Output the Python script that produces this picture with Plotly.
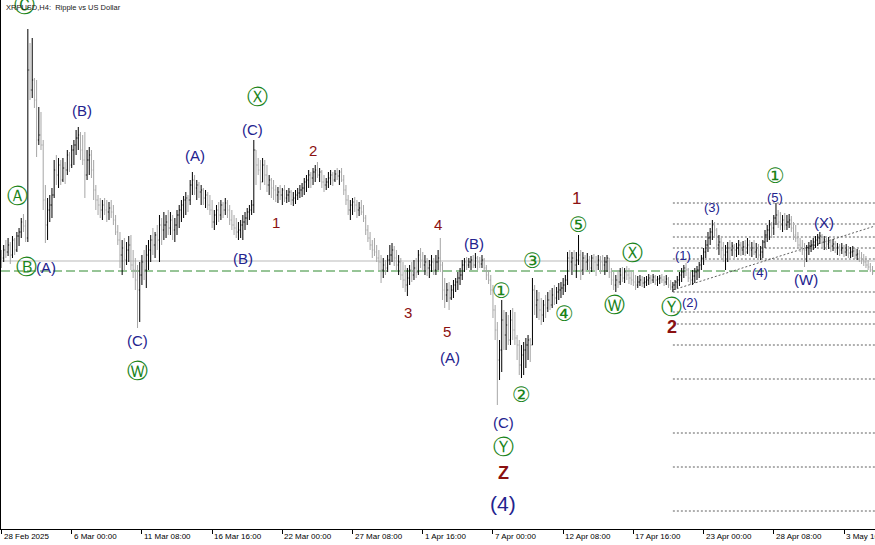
import plotly.graph_objects as go
import pandas as pd

# ---------------- data (XRPUSD, H4) ----------------
start = pd.Timestamp("2025-02-28 16:00")
first_open = 2.180

highs = [
    2.200, 2.220, 2.240, 2.248, 2.232, 2.256, 2.248, 2.272, 2.288, 2.328,
    2.344, 2.320, 3.084, 3.028, 3.048, 2.888, 2.880, 2.772, 2.752, 2.640,
    2.460, 2.408, 2.420, 2.448, 2.560, 2.580, 2.568, 2.560, 2.568, 2.552,
    2.600, 2.592, 2.620, 2.640, 2.680, 2.692, 2.672, 2.660, 2.672, 2.600,
    2.612, 2.600, 2.560, 2.460, 2.420, 2.408, 2.400, 2.408, 2.400, 2.392,
    2.400, 2.380, 2.340, 2.300, 2.272, 2.240, 2.248, 2.232, 2.256, 2.260,
    2.200, 2.168, 2.140, 2.152, 2.180, 2.200, 2.220, 2.240, 2.260, 2.288,
    2.272, 2.300, 2.340, 2.328, 2.352, 2.340, 2.360, 2.352, 2.340, 2.328,
    2.360, 2.380, 2.400, 2.416, 2.432, 2.420, 2.480, 2.512, 2.500, 2.480,
    2.472, 2.460, 2.448, 2.440, 2.432, 2.420, 2.400, 2.360, 2.380, 2.392,
    2.400, 2.392, 2.408, 2.400, 2.380, 2.360, 2.340, 2.328, 2.312, 2.320,
    2.340, 2.352, 2.368, 2.380, 2.400, 2.640, 2.580, 2.568, 2.560, 2.568,
    2.560, 2.540, 2.500, 2.488, 2.480, 2.460, 2.452, 2.460, 2.448, 2.460,
    2.440, 2.448, 2.440, 2.432, 2.440, 2.448, 2.460, 2.468, 2.488, 2.500,
    2.520, 2.512, 2.528, 2.540, 2.552, 2.528, 2.520, 2.500, 2.488, 2.512,
    2.520, 2.512, 2.520, 2.528, 2.520, 2.528, 2.500, 2.460, 2.420, 2.400,
    2.408, 2.412, 2.400, 2.392, 2.400, 2.380, 2.340, 2.300, 2.272, 2.240,
    2.248, 2.220, 2.200, 2.180, 2.168, 2.160, 2.180, 2.220, 2.228, 2.216,
    2.200, 2.180, 2.168, 2.152, 2.140, 2.128, 2.140, 2.152, 2.160, 2.168,
    2.200, 2.208, 2.192, 2.180, 2.168, 2.160, 2.180, 2.168, 2.180, 2.200,
    2.248, 2.152, 2.088, 2.068, 2.072, 2.060, 2.080, 2.088, 2.112, 2.128,
    2.160, 2.168, 2.172, 2.168, 2.176, 2.180, 2.188, 2.176, 2.172, 2.180,
    2.168, 2.140, 2.120, 2.100, 2.060, 1.980, 1.912, 1.840, 2.000, 1.960,
    1.952, 1.940, 1.960, 1.968, 1.952, 1.860, 1.840, 1.820, 1.832, 1.848,
    1.860, 1.848, 2.088, 2.060, 2.040, 2.032, 2.008, 2.000, 2.020, 2.032,
    2.040, 2.048, 2.060, 2.052, 2.068, 2.072, 2.088, 2.100, 2.192, 2.200,
    2.192, 2.200, 2.192, 2.260, 2.200, 2.192, 2.180, 2.188, 2.176, 2.180,
    2.184, 2.176, 2.180, 2.176, 2.180, 2.172, 2.180, 2.168, 2.128, 2.112,
    2.100, 2.120, 2.128, 2.132, 2.128, 2.136, 2.128, 2.120, 2.112, 2.100,
    2.096, 2.100, 2.096, 2.092, 2.096, 2.104, 2.100, 2.104, 2.100, 2.096,
    2.100, 2.104, 2.096, 2.100, 2.092, 2.080, 2.072, 2.080, 2.096, 2.112,
    2.128, 2.140, 2.148, 2.128, 2.112, 2.120, 2.128, 2.136, 2.152, 2.180,
    2.208, 2.240, 2.272, 2.288, 2.320, 2.312, 2.288, 2.260, 2.248, 2.232,
    2.220, 2.232, 2.240, 2.232, 2.224, 2.228, 2.240, 2.232, 2.236, 2.240,
    2.248, 2.240, 2.232, 2.240, 2.228, 2.224, 2.216, 2.240, 2.280, 2.300,
    2.320, 2.312, 2.340, 2.388, 2.360, 2.352, 2.340, 2.348, 2.340, 2.344,
    2.336, 2.312, 2.300, 2.272, 2.248, 2.240, 2.228, 2.220, 2.232, 2.240,
    2.248, 2.256, 2.264, 2.272, 2.264, 2.256, 2.248, 2.252, 2.240, 2.244,
    2.236, 2.228, 2.224, 2.228, 2.220, 2.224, 2.216, 2.212, 2.216, 2.208,
    2.204, 2.200, 2.192, 2.184, 2.176, 2.160, 2.148, 2.136,
]

lows = [
    2.128, 2.152, 2.168, 2.176, 2.144, 2.168, 2.180, 2.192, 2.216, 2.248,
    2.272, 2.232, 2.232, 2.800, 2.808, 2.768, 2.572, 2.620, 2.600, 2.360,
    2.228, 2.240, 2.312, 2.328, 2.408, 2.460, 2.448, 2.460, 2.472, 2.464,
    2.500, 2.512, 2.528, 2.540, 2.580, 2.600, 2.560, 2.540, 2.408, 2.480,
    2.500, 2.488, 2.400, 2.360, 2.340, 2.328, 2.320, 2.340, 2.312, 2.320,
    2.328, 2.300, 2.260, 2.220, 2.128, 2.100, 2.120, 2.140, 2.152, 2.120,
    2.088, 2.040, 1.888, 1.912, 2.060, 2.080, 2.048, 2.120, 2.152, 2.180,
    2.168, 2.200, 2.152, 2.220, 2.240, 2.248, 2.260, 2.260, 2.240, 2.232,
    2.260, 2.288, 2.312, 2.328, 2.340, 2.352, 2.380, 2.420, 2.420, 2.400,
    2.408, 2.380, 2.380, 2.368, 2.360, 2.340, 2.288, 2.280, 2.300, 2.312,
    2.320, 2.328, 2.340, 2.328, 2.300, 2.280, 2.260, 2.248, 2.240, 2.248,
    2.240, 2.280, 2.300, 2.320, 2.340, 2.348, 2.460, 2.500, 2.440, 2.480,
    2.460, 2.432, 2.420, 2.408, 2.400, 2.392, 2.388, 2.400, 2.380, 2.392,
    2.388, 2.392, 2.380, 2.376, 2.384, 2.400, 2.408, 2.412, 2.420, 2.432,
    2.448, 2.448, 2.460, 2.472, 2.488, 2.472, 2.448, 2.432, 2.440, 2.448,
    2.460, 2.456, 2.472, 2.480, 2.460, 2.472, 2.420, 2.380, 2.340, 2.320,
    2.340, 2.352, 2.328, 2.336, 2.340, 2.312, 2.260, 2.232, 2.200, 2.168,
    2.176, 2.152, 2.120, 2.068, 2.088, 2.100, 2.112, 2.140, 2.152, 2.136,
    2.120, 2.100, 2.080, 2.048, 2.032, 2.016, 2.060, 2.072, 2.080, 2.088,
    2.100, 2.128, 2.112, 2.100, 2.096, 2.088, 2.112, 2.100, 2.100, 2.120,
    2.112, 2.000, 1.968, 1.992, 1.960, 2.000, 2.008, 2.032, 2.040, 2.060,
    2.080, 2.112, 2.120, 2.128, 2.120, 2.128, 2.128, 2.120, 2.128, 2.128,
    2.112, 2.080, 2.064, 2.020, 1.928, 1.840, 1.580, 1.680, 1.712, 1.800,
    1.800, 1.820, 1.820, 1.840, 1.820, 1.760, 1.700, 1.688, 1.700, 1.728,
    1.760, 1.752, 1.820, 1.940, 1.928, 1.920, 1.900, 1.912, 1.928, 1.952,
    1.960, 1.968, 1.980, 1.984, 2.000, 2.008, 2.020, 2.032, 2.060, 2.112,
    2.100, 2.120, 2.088, 2.140, 2.080, 2.100, 2.112, 2.120, 2.104, 2.112,
    2.120, 2.096, 2.120, 2.104, 2.112, 2.100, 2.112, 2.088, 2.060, 2.040,
    2.032, 2.048, 2.060, 2.072, 2.068, 2.080, 2.064, 2.060, 2.056, 2.040,
    2.048, 2.056, 2.052, 2.048, 2.056, 2.060, 2.064, 2.068, 2.060, 2.056,
    2.064, 2.068, 2.056, 2.060, 2.048, 2.040, 2.032, 2.040, 2.048, 2.056,
    2.072, 2.088, 2.096, 2.072, 2.060, 2.060, 2.068, 2.080, 2.088, 2.120,
    2.140, 2.168, 2.192, 2.220, 2.240, 2.248, 2.200, 2.180, 2.168, 2.152,
    2.120, 2.152, 2.168, 2.176, 2.168, 2.172, 2.180, 2.176, 2.180, 2.176,
    2.184, 2.176, 2.172, 2.180, 2.168, 2.168, 2.160, 2.168, 2.208, 2.232,
    2.240, 2.248, 2.260, 2.300, 2.288, 2.280, 2.272, 2.280, 2.280, 2.288,
    2.272, 2.240, 2.232, 2.208, 2.192, 2.180, 2.132, 2.152, 2.180, 2.192,
    2.200, 2.208, 2.216, 2.224, 2.208, 2.200, 2.200, 2.204, 2.192, 2.196,
    2.188, 2.180, 2.176, 2.184, 2.172, 2.176, 2.168, 2.168, 2.172, 2.164,
    2.160, 2.152, 2.144, 2.136, 2.128, 2.120, 2.112, 2.100,
]

closes = [
    2.168, 2.200, 2.192, 2.220, 2.180, 2.240, 2.200, 2.256, 2.272, 2.312,
    2.296, 2.248, 2.920, 2.840, 2.880, 2.800, 2.640, 2.660, 2.620, 2.400,
    2.300, 2.360, 2.380, 2.420, 2.520, 2.500, 2.540, 2.480, 2.528, 2.520,
    2.580, 2.540, 2.600, 2.620, 2.648, 2.660, 2.600, 2.560, 2.500, 2.560,
    2.580, 2.520, 2.440, 2.400, 2.380, 2.360, 2.380, 2.360, 2.352, 2.368,
    2.352, 2.320, 2.272, 2.240, 2.180, 2.208, 2.160, 2.200, 2.220, 2.140,
    2.120, 2.080, 2.040, 2.100, 2.152, 2.120, 2.180, 2.200, 2.240, 2.220,
    2.260, 2.240, 2.300, 2.280, 2.300, 2.312, 2.288, 2.320, 2.280, 2.300,
    2.340, 2.360, 2.380, 2.400, 2.408, 2.400, 2.460, 2.480, 2.448, 2.460,
    2.432, 2.440, 2.408, 2.420, 2.380, 2.360, 2.312, 2.340, 2.360, 2.340,
    2.380, 2.360, 2.388, 2.360, 2.320, 2.300, 2.288, 2.272, 2.280, 2.300,
    2.312, 2.328, 2.352, 2.360, 2.380, 2.600, 2.540, 2.520, 2.472, 2.540,
    2.500, 2.460, 2.480, 2.448, 2.440, 2.420, 2.432, 2.420, 2.440, 2.408,
    2.420, 2.432, 2.400, 2.408, 2.420, 2.428, 2.440, 2.448, 2.472, 2.480,
    2.500, 2.488, 2.512, 2.520, 2.500, 2.512, 2.472, 2.460, 2.472, 2.488,
    2.500, 2.480, 2.504, 2.496, 2.512, 2.480, 2.440, 2.400, 2.360, 2.380,
    2.392, 2.380, 2.360, 2.368, 2.352, 2.328, 2.280, 2.248, 2.220, 2.200,
    2.192, 2.168, 2.152, 2.120, 2.140, 2.128, 2.160, 2.180, 2.200, 2.168,
    2.140, 2.152, 2.100, 2.080, 2.060, 2.088, 2.120, 2.100, 2.128, 2.112,
    2.180, 2.160, 2.140, 2.152, 2.128, 2.140, 2.152, 2.120, 2.152, 2.168,
    2.140, 2.040, 2.020, 2.040, 2.008, 2.040, 2.060, 2.072, 2.088, 2.100,
    2.140, 2.152, 2.140, 2.152, 2.160, 2.140, 2.168, 2.152, 2.144, 2.160,
    2.128, 2.100, 2.080, 2.040, 1.960, 1.880, 1.760, 1.800, 1.920, 1.860,
    1.900, 1.840, 1.920, 1.880, 1.848, 1.820, 1.740, 1.780, 1.800, 1.820,
    1.840, 1.820, 2.040, 1.980, 2.000, 1.960, 1.940, 1.980, 1.968, 2.000,
    1.980, 2.020, 2.008, 2.032, 2.040, 2.048, 2.060, 2.080, 2.168, 2.152,
    2.168, 2.140, 2.160, 2.180, 2.120, 2.168, 2.152, 2.160, 2.128, 2.168,
    2.152, 2.140, 2.160, 2.152, 2.140, 2.152, 2.168, 2.112, 2.080, 2.060,
    2.080, 2.072, 2.100, 2.088, 2.112, 2.100, 2.088, 2.080, 2.072, 2.060,
    2.072, 2.080, 2.068, 2.072, 2.080, 2.088, 2.080, 2.092, 2.080, 2.084,
    2.088, 2.080, 2.072, 2.084, 2.060, 2.052, 2.060, 2.072, 2.080, 2.100,
    2.112, 2.128, 2.120, 2.088, 2.080, 2.096, 2.112, 2.120, 2.140, 2.168,
    2.192, 2.220, 2.248, 2.272, 2.300, 2.280, 2.220, 2.232, 2.200, 2.180,
    2.192, 2.208, 2.200, 2.216, 2.200, 2.208, 2.220, 2.200, 2.212, 2.192,
    2.220, 2.200, 2.208, 2.192, 2.200, 2.180, 2.192, 2.232, 2.260, 2.280,
    2.300, 2.288, 2.328, 2.340, 2.312, 2.300, 2.320, 2.300, 2.312, 2.320,
    2.288, 2.260, 2.248, 2.220, 2.208, 2.200, 2.200, 2.208, 2.216, 2.220,
    2.232, 2.240, 2.248, 2.256, 2.232, 2.240, 2.224, 2.232, 2.216, 2.224,
    2.208, 2.212, 2.200, 2.208, 2.192, 2.200, 2.188, 2.192, 2.196, 2.180,
    2.184, 2.168, 2.160, 2.152, 2.140, 2.132, 2.120, 2.108,
]

# horizontal levels
ref_level = 2.156          # solid grey line
dash_level = 2.116         # green dashed line
fib_levels = [2.388, 2.304, 2.252, 2.208, 2.164, 2.032, 1.952, 1.904,
              1.820, 1.684, 1.468, 1.332, 1.156]
fib_start_bar = 306
trend_p0 = 2.040           # trendline at fib_start_bar
trend_p1 = 2.296           # trendline at right edge

tick_times = ["2025-02-28 16:00", "2025-03-06 00:00", "2025-03-11 08:00",
              "2025-03-16 16:00", "2025-03-22 00:00", "2025-03-27 08:00",
              "2025-04-01 16:00", "2025-04-07 00:00", "2025-04-12 08:00",
              "2025-04-17 16:00", "2025-04-23 00:00", "2025-04-28 08:00",
              "2025-05-03 16:00"]
tick_labels = ["28 Feb 2025", "6 Mar 00:00", "11 Mar 08:00", "16 Mar 16:00",
               "22 Mar 00:00", "27 Mar 08:00", "1 Apr 16:00", "7 Apr 00:00",
               "12 Apr 08:00", "17 Apr 16:00", "23 Apr 00:00", "28 Apr 08:00",
               "3 May 16:00"]

# wave labels: text, bar position, price, style
wave_labels = [
    ("Ⓒ", 10.7, 3.180, "g"), ("Ⓐ", 7.1, 2.416, "g"), ("Ⓑ", 11.6, 2.132, "g"),
    ("(A)", 20.3, 2.132, "b"), ("(B)", 36.7, 2.760, "b"), ("(C)", 61.8, 1.840, "b"),
    ("Ⓦ", 61.8, 1.716, "g"), ("(A)", 88.2, 2.580, "b"), ("(C)", 114.6, 2.684, "b"),
    ("Ⓧ", 116.5, 2.812, "g"), ("(B)", 110.1, 2.168, "b"), ("1", 125.1, 2.312, "r"),
    ("2", 142.0, 2.600, "r"), ("3", 185.3, 1.952, "r"), ("4", 199.0, 2.304, "r"),
    ("5", 203.1, 1.876, "r"), ("(A)", 204.4, 1.772, "b"), ("(B)", 215.4, 2.228, "b"),
    ("①", 228.1, 2.036, "g"), ("③", 241.8, 2.156, "g"), ("④", 256.4, 1.944, "g"),
    ("②", 237.2, 1.620, "g"), ("(C)", 228.6, 1.512, "b"), ("Ⓨ", 228.6, 1.412, "g"),
    ("Z", 228.6, 1.308, "R"), ("(4)", 228.6, 1.188, "B"), ("1", 262.3, 2.408, "L"),
    ("⑤", 262.8, 2.300, "g"), ("Ⓧ", 287.8, 2.188, "g"), ("Ⓦ", 279.6, 1.980, "g"),
    ("Ⓨ", 305.6, 1.972, "g"), ("(2)", 313.8, 1.992, "n"), ("2", 305.6, 1.892, "R"),
    ("(1)", 310.6, 2.180, "n"), ("(3)", 323.8, 2.372, "n"), ("(4)", 345.7, 2.112, "n"),
    ("①", 352.6, 2.496, "g"), ("(5)", 352.6, 2.412, "n"), ("(X)", 374.9, 2.312, "b"),
    ("(W)", 366.7, 2.084, "b"), ("(Y)", 402.0, 2.040, "b"), ("②", 402.0, 1.976, "g"),
    ("(C)", -4.8, 1.836, "b"), ("Ⓑ", -4.3, 1.720, "g"),
]

# ---------------- build ----------------
BAR_H = 4
PX_PER_BAR = 2.194
n = min(len(highs), len(lows), len(closes))
times = pd.date_range(start, periods=n, freq=f"{BAR_H}h")
opens = [first_open] + closes[:n - 1]
hi = [max(h, o, c) for h, o, c in zip(highs, opens, closes)]
lo = [min(l, o, c) for l, o, c in zip(lows, opens, closes)]


def bar_time(b):
    return start + pd.Timedelta(hours=BAR_H * b)


x0 = bar_time(-0.5 / PX_PER_BAR)
x1 = bar_time(873.5 / PX_PER_BAR)

fig = go.Figure()
fig.add_trace(go.Ohlc(
    x=times, open=opens, high=hi, low=lo, close=closes[:n],
    increasing=dict(line=dict(color="#000000", width=1)),
    decreasing=dict(line=dict(color="#a6a6a6", width=1)),
    tickwidth=0.35, hoverinfo="skip", showlegend=False,
))

shapes = []
shapes.append(dict(type="line", xref="paper", x0=0, x1=1, yref="y",
                   y0=ref_level, y1=ref_level,
                   line=dict(color="#b9b9b9", width=1), layer="below"))
shapes.append(dict(type="line", xref="paper", x0=0, x1=1, yref="y",
                   y0=dash_level, y1=dash_level,
                   line=dict(color="#2f8a2f", width=1, dash="9px,4px"), layer="below"))
fs = bar_time(fib_start_bar)
for lv in fib_levels:
    shapes.append(dict(type="line", xref="x", x0=fs, x1=x1, yref="y", y0=lv, y1=lv,
                       line=dict(color="#606060", width=1, dash="2px,2px"), layer="below"))
shapes.append(dict(type="line", xref="x", x0=fs, x1=x1, yref="y",
                   y0=trend_p0, y1=trend_p1,
                   line=dict(color="#606060", width=1, dash="2px,2px"), layer="below"))

styles = {
    "b": dict(color="#23238e", size=15, family="Liberation Sans"),
    "n": dict(color="#23238e", size=13, family="Liberation Sans"),
    "B": dict(color="#23238e", size=21, family="Liberation Sans"),
    "r": dict(color="#8b1111", size=15, family="Liberation Sans"),
    "L": dict(color="#8b1111", size=17, family="Liberation Sans"),
    "R": dict(color="#8b1111", size=18, family="Liberation Sans"),
    "g": dict(color="#1a841a", size=21, family="DejaVu Sans"),
}

ann = []
for txt, b, p, st in wave_labels:
    t = txt
    if st == "R":
        t = "<b>" + txt + "</b>"
    ann.append(dict(x=bar_time(b), y=p, xref="x", yref="y", text=t,
                    showarrow=False, xanchor="center", yanchor="middle",
                    font=styles[st]))

PLOT_H = 529
for tt, tl in zip(tick_times, tick_labels):
    ann.append(dict(x=pd.Timestamp(tt), y=(PLOT_H - 536.5) / PLOT_H,
                    xref="x", yref="paper", text=tl, showarrow=False,
                    xanchor="left", yanchor="middle", xshift=0,
                    font=dict(family="Liberation Sans", size=8, color="#000000")))

ann.append(dict(x=0.003, y=(PLOT_H - 7) / PLOT_H, xref="paper", yref="paper",
                text="XRPUSD,H4:  Ripple vs US Dollar", showarrow=False,
                xanchor="left", yanchor="middle",
                font=dict(family="Liberation Sans", size=7.5, color="#202020")))

fig.update_layout(
    width=875, height=545,
    margin=dict(l=1, r=0, t=0, b=16, pad=0),
    paper_bgcolor="white", plot_bgcolor="white",
    shapes=shapes, annotations=ann, showlegend=False,
    xaxis=dict(type="date", range=[x0, x1], rangeslider=dict(visible=False),
               showgrid=False, zeroline=False, showline=True, linecolor="#000000",
               linewidth=1, tickvals=[pd.Timestamp(t) for t in tick_times],
               ticks="outside", ticklen=4, tickcolor="#000000", tickwidth=1,
               showticklabels=False, fixedrange=True),
    yaxis=dict(range=[1.084, 3.2], showgrid=False, zeroline=False,
               showline=True, linecolor="#000000", linewidth=1,
               showticklabels=False, ticks="", fixedrange=True),
)

fig.write_html(
    "out.html",
    config={"displayModeBar": False},
    post_script="document.body.style.margin='0';document.body.style.overflow='hidden';",
)
